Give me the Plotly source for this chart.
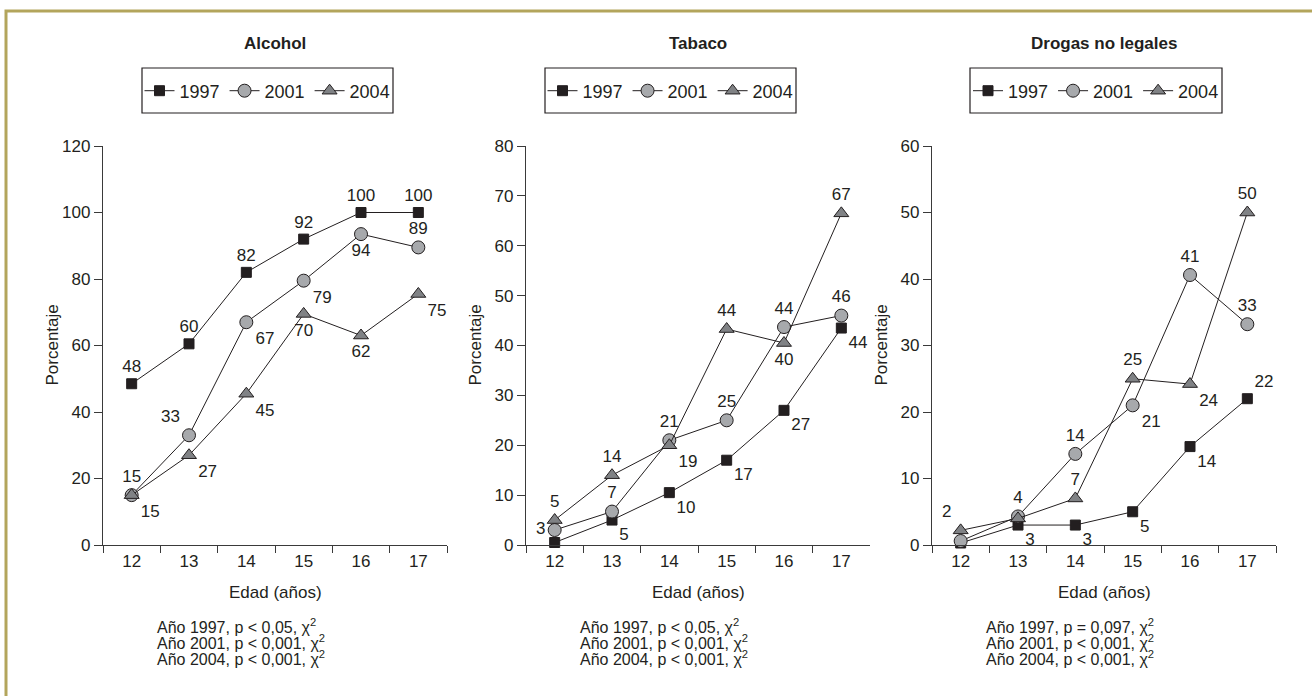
import plotly.graph_objects as go

edades = ["12", "13", "14", "15", "16", "17"]
anios = ["1997", "2001", "2004"]
paneles = ["Alcohol", "Tabaco", "Drogas no legales"]

alcohol_1997 = [48.5, 60.5, 82, 92, 100, 100]
alcohol_2001 = [15, 33, 67, 79.5, 93.5, 89.5]
alcohol_2004 = [15, 27, 45.5, 69.5, 63, 75.5]
alcohol_lab_1997 = ["48", "60", "82", "92", "100", "100"]
alcohol_lab_2001 = ["15", "33", "67", "79", "94", "89"]
alcohol_lab_2004 = ["15", "27", "45", "70", "62", "75"]

tabaco_1997 = [0.5, 5, 10.5, 17, 27, 43.5]
tabaco_2001 = [3, 6.7, 21, 25, 43.7, 46]
tabaco_2004 = [5, 14, 20, 43.3, 40.5, 66.5]
tabaco_lab_1997 = ["", "5", "10", "17", "27", "44"]
tabaco_lab_2001 = ["3", "7", "21", "25", "44", "46"]
tabaco_lab_2004 = ["5", "14", "19", "44", "40", "67"]

drogas_1997 = [0.3, 3, 3, 5, 14.8, 22]
drogas_2001 = [0.6, 4.3, 13.7, 21, 40.6, 33.2]
drogas_2004 = [2.2, 4, 7, 25, 24.2, 50]
drogas_lab_1997 = ["", "3", "3", "5", "14", "22"]
drogas_lab_2001 = ["", "4", "14", "21", "41", "33"]
drogas_lab_2004 = ["2", "", "7", "25", "24", "50"]

y_max = [120, 80, 60]
y_dtick = [20, 10, 10]

notas = [
    ["Año 1997, p &lt; 0,05, χ<sup>2</sup>", "Año 2001, p &lt; 0,001, χ<sup>2</sup>", "Año 2004, p &lt; 0,001, χ<sup>2</sup>"],
    ["Año 1997, p &lt; 0,05, χ<sup>2</sup>", "Año 2001, p &lt; 0,001, χ<sup>2</sup>", "Año 2004, p &lt; 0,001, χ<sup>2</sup>"],
    ["Año 1997, p = 0,097, χ<sup>2</sup>", "Año 2001, p &lt; 0,001, χ<sup>2</sup>", "Año 2004, p &lt; 0,001, χ<sup>2</sup>"],
]

datos = [
    [(alcohol_1997, alcohol_lab_1997), (alcohol_2001, alcohol_lab_2001), (alcohol_2004, alcohol_lab_2004)],
    [(tabaco_1997, tabaco_lab_1997), (tabaco_2001, tabaco_lab_2001), (tabaco_2004, tabaco_lab_2004)],
    [(drogas_1997, drogas_lab_1997), (drogas_2001, drogas_lab_2001), (drogas_2004, drogas_lab_2004)],
]

# label placement (style)
posiciones = [
    [["top center"] * 6,
     ["top center", "top left", "bottom right", "bottom right", "bottom center", "top center"],
     ["bottom right", "bottom right", "bottom right", "bottom center", "bottom center", "bottom right"]],
    [["top center", "bottom right", "bottom right", "bottom right", "bottom right", "bottom right"],
     ["middle left", "top center", "top center", "top center", "top center", "top center"],
     ["top center", "top center", "bottom right", "top center", "bottom center", "top center"]],
    [["top center", "bottom right", "bottom right", "bottom right", "bottom right", "top right"],
     ["top center", "top center", "top center", "bottom right", "top center", "top center"],
     ["top left", "top center", "top center", "top center", "bottom right", "top center"]],
]

W, H = 1312, 696
FONT = "Liberation Sans, Arial, sans-serif"
FS = 17
TXT = "#231f20"
AX = "#3a3a3a"
estilos = [
    dict(symbol="square", size=10, color="#231f20", line=dict(color="#231f20", width=1)),
    dict(symbol="circle", size=13, color="#a7a9ac", line=dict(color="#231f20", width=1)),
    dict(symbol="triangle-up", size=13, color="#808285", line=dict(color="#231f20", width=1)),
]

x_px = [(103, 447), (526, 870), (932, 1276)]
leg_px = [(142, 393), (545, 796), (970, 1222)]
y_top, y_bot = 146, 545


def px(x):
    return x / W


def py(y):
    return 1 - y / H


fig = go.Figure()
annotations = []
shapes = []
legend_names = ["legend", "legend2", "legend3"]

for p in range(3):
    xa = "x" if p == 0 else f"x{p+1}"
    ya = "y" if p == 0 else f"y{p+1}"
    for s in range(3):
        vals, labs = datos[p][s]
        fig.add_trace(go.Scatter(
            x=edades, y=vals, text=labs, mode="lines+markers+text",
            textposition=posiciones[p][s],
            textfont=dict(family=FONT, size=FS, color=TXT),
            name=anios[s], xaxis=xa, yaxis=ya,
            line=dict(color="#231f20", width=1),
            marker=estilos[s], cliponaxis=False,
            legend=legend_names[p],
        ))
    x0, x1 = x_px[p]
    axis_x = dict(
        domain=[px(x0), px(x1)], type="category", range=[-0.5, 5.5],
        tickson="boundaries", ticks="outside", ticklen=7, tickcolor=AX,
        showline=True, linecolor=AX, linewidth=1.3, showgrid=False, zeroline=False,
        tickfont=dict(family=FONT, size=FS, color=TXT), anchor=ya, fixedrange=True,
    )
    axis_y = dict(
        domain=[py(y_bot), py(y_top)], range=[0, y_max[p]], dtick=y_dtick[p],
        ticks="outside", ticklen=8, tickcolor=AX, showline=True, linecolor=AX,
        linewidth=1.3, showgrid=False, zeroline=False,
        tickfont=dict(family=FONT, size=FS, color=TXT), anchor=xa, fixedrange=True,
    )
    fig.update_layout({("xaxis" if p == 0 else f"xaxis{p+1}"): axis_x,
                       ("yaxis" if p == 0 else f"yaxis{p+1}"): axis_y})
    cx = (x0 + x1) / 2
    annotations.append(dict(x=px(cx), y=py(43), xref="paper", yref="paper",
                            xanchor="center", yanchor="middle",
                            text="<b>" + paneles[p] + "</b>", showarrow=False,
                            font=dict(family=FONT, size=FS, color=TXT)))
    annotations.append(dict(x=px(x0 - 51), y=py((y_top + y_bot) / 2), xref="paper", yref="paper",
                            xanchor="center", yanchor="middle",
                            text="Porcentaje", textangle=-90, showarrow=False,
                            font=dict(family=FONT, size=FS, color=TXT)))
    annotations.append(dict(x=px(cx), y=py(592), xref="paper", yref="paper",
                            xanchor="center", yanchor="middle",
                            text="Edad (años)", showarrow=False,
                            font=dict(family=FONT, size=FS, color=TXT)))
    for i, linea in enumerate(notas[p]):
        annotations.append(dict(x=px(x0 + 52), y=py(626 + 16 * i), xref="paper", yref="paper",
                                text=linea, showarrow=False, xanchor="left", yanchor="middle",
                                font=dict(family=FONT, size=16, color=TXT)))
    lx0, lx1 = leg_px[p]
    shapes.append(dict(type="rect", xref="paper", yref="paper",
                       x0=px(lx0), x1=px(lx1), y0=py(113), y1=py(68),
                       line=dict(color="#231f20", width=1.2), fillcolor="rgba(0,0,0,0)"))
    fig.update_layout({legend_names[p]: dict(
        orientation="h", x=px((lx0 + lx1) / 2), y=py(91), xanchor="center", yanchor="middle",
        borderwidth=0, bgcolor="rgba(0,0,0,0)", itemclick=False, itemdoubleclick=False,
        font=dict(family=FONT, size=18, color=TXT),
    )})

shapes.append(dict(type="rect", xref="paper", yref="paper", x0=px(6), x1=px(1330),
                   y0=py(720), y1=py(11), line=dict(color="#b3a55c", width=3)))

fig.update_layout(
    width=W, height=H, margin=dict(l=0, r=0, t=0, b=0, autoexpand=False),
    paper_bgcolor="white", plot_bgcolor="white",
    annotations=annotations, shapes=shapes,
)

fig.write_html("out.html", config={"displayModeBar": False},
               post_script="document.body.style.margin='0';")
